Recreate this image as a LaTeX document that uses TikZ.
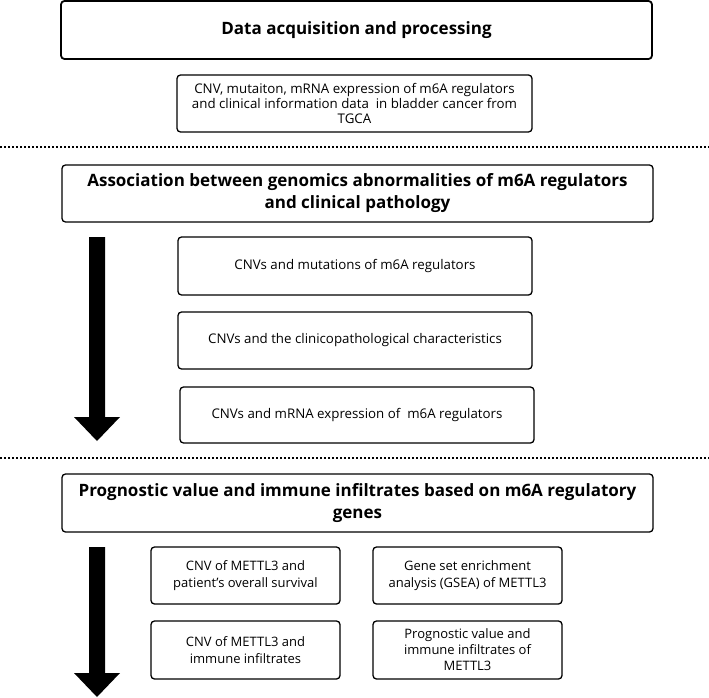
\documentclass[tikz,border=0pt]{standalone}
\usepackage{fontspec}
\setmainfont{Open Sans}
\begin{document}
\begin{tikzpicture}[x=1pt,y=-1pt,
  box/.style={draw=black, line width=1.3pt, rounded corners=3.5pt, inner sep=0pt, align=center, fill=white},
  titlebox/.style={box, font=\fontsize{17}{22}\selectfont\bfseries},
  txtbox/.style={box, font=\fontsize{13.3}{15}\selectfont},
  smallbox/.style={box, font=\fontsize{13}{16.5}\selectfont},
  sep/.style={line width=1.5pt, dash pattern=on 2pt off 2pt},
  bigarrow/.style={fill=black, draw=none}]
\useasboundingbox (0,0) rectangle (709,698);
\node[titlebox, line width=1.8pt, minimum width=591pt, minimum height=58pt] (b1) at (356.5,30) {Data acquisition and processing};
\node[txtbox, minimum width=355pt, minimum height=57pt] (b2) at (354.5,103.5) {CNV, mutaiton, mRNA expression of m6A regulators\\and clinical information data\ \ in bladder cancer from\\TGCA};
\coordinate (s1l) at (0,147); \coordinate (s1r) at (709,147);
\draw[sep] (s1l) -- (s1r);
\node[titlebox, minimum width=591pt, minimum height=57pt] (b3) at (357.5,193.5) {Association between genomics abnormalities of m6A regulators\\and clinical pathology};
\node[txtbox, minimum width=354pt, minimum height=58pt] (b4) at (355,266) {CNVs and mutations of m6A regulators};
\node[txtbox, minimum width=354pt, minimum height=57pt] (b5) at (355,340.5) {CNVs and the clinicopathological characteristics};
\node[txtbox, minimum width=354pt, minimum height=56pt] (b6) at (357,415) {CNVs and mRNA expression of\ \ m6A regulators};
\fill[bigarrow] (89,237) -- (105,237) -- (105,417) -- (120,417) -- (97,441) -- (74,417) -- (89,417) -- cycle;
\coordinate (s2l) at (0,458); \coordinate (s2r) at (709,458);
\draw[sep] (s2l) -- (s2r);
\node[titlebox, minimum width=591pt, minimum height=58pt] (b7) at (357.5,503) {Prognostic value and immune infiltrates based on m6A regulatory\\genes};
\node[smallbox, minimum width=189pt, minimum height=57pt] (b8) at (245.5,575.5) {CNV of METTL3 and\\patient's overall survival};
\node[smallbox, minimum width=189pt, minimum height=57pt] (b8r) at (467.5,575.5) {Gene set enrichment\\analysis (GSEA) of METTL3};
\node[smallbox, minimum width=189pt, minimum height=58pt] (b9) at (245.5,650) {CNV of METTL3 and\\immune infiltrates};
\node[smallbox, font=\fontsize{13}{16}\selectfont, minimum width=189pt, minimum height=58pt] (b9r) at (467.5,650) {Prognostic value and\\immune infiltrates of\\METTL3};
\fill[bigarrow] (89,547) -- (105,547) -- (105,673) -- (120,673) -- (97,697) -- (74,673) -- (89,673) -- cycle;
\end{tikzpicture}
\end{document}
